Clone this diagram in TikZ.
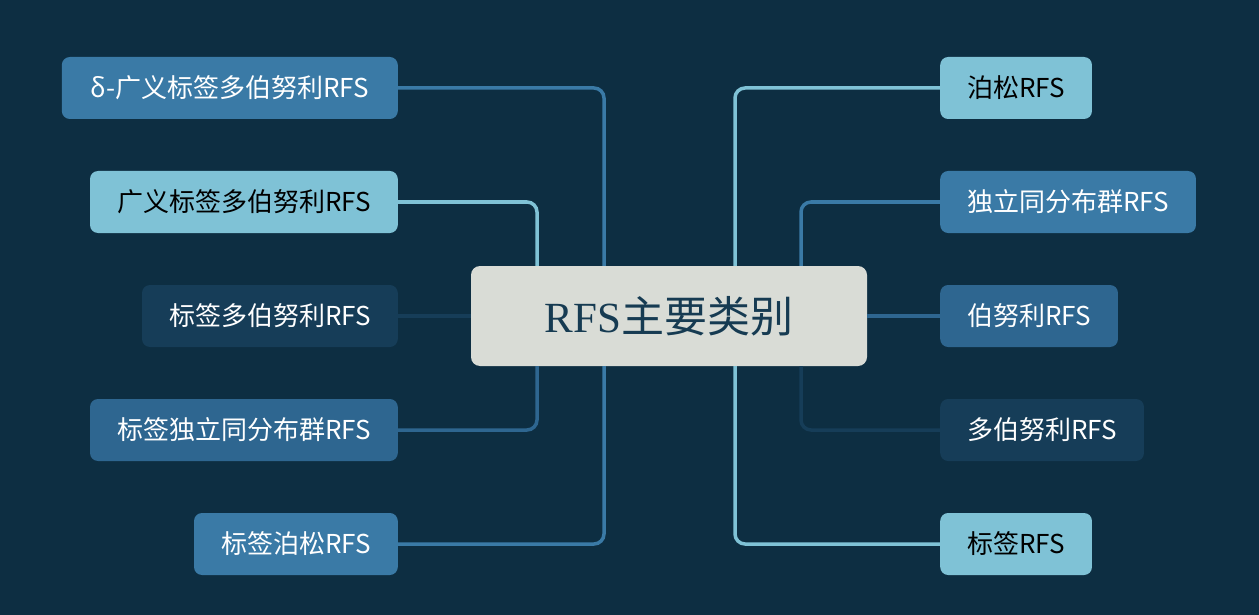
\documentclass[tikz,border=0pt]{standalone}
\usepackage{fontspec}
\newfontfamily\cjk{Noto Sans CJK SC}
\newfontfamily\rmlat{Liberation Serif}
\definecolor{bgcol}{HTML}{0D2E42}
\definecolor{bluea}{HTML}{3A7AA6}
\definecolor{blueb}{HTML}{7FC2D6}
\definecolor{bluec}{HTML}{163D58}
\definecolor{blued}{HTML}{2E6690}
\definecolor{rootfill}{HTML}{D9DCD6}
\definecolor{roottext}{HTML}{163B52}
\tikzset{
  leaf/.style={rounded corners=8, minimum height=62, inner xsep=27, inner ysep=0,
    font=\cjk\fontsize{26}{30}\selectfont, text=white},
  leftleaf/.style={leaf, anchor=east},
  rightleaf/.style={leaf, anchor=west},
  link/.style={line width=3.5, rounded corners=10}
}
\begin{document}
\begin{tikzpicture}[x=1pt, y=-1pt]
      % Background
      \fill[bgcol] (0,0) rectangle (1259,615);

      % Root
      \node[fill=rootfill, rounded corners=9, minimum width=396, minimum height=100,
        text=roottext, font=\fontsize{43}{48}\selectfont]
        (root) at (669,316) {{\rmlat RFS}{\cjk 主要类别}};

      % Left boxes
      \node[leftleaf, fill=bluea, minimum width=336] (dglmb) at (398,88) {δ-广义标签多伯努利RFS};
      \node[leftleaf, fill=blueb, text=black] (glmb) at (398,202) {广义标签多伯努利RFS};
      \node[leftleaf, fill=bluec] (lmb) at (398,316) {标签多伯努利RFS};
      \node[leftleaf, fill=blued] (liid) at (398,430) {标签独立同分布群RFS};
      \node[leftleaf, fill=bluea] (lpois) at (398,544) {标签泊松RFS};

      % Right boxes
      \node[rightleaf, fill=blueb, text=black] (pois) at (940,88) {泊松RFS};
      \node[rightleaf, fill=bluea] (iid) at (940,202) {独立同分布群RFS};
      \node[rightleaf, fill=blued] (bern) at (940,316) {伯努利RFS};
      \node[rightleaf, fill=bluec] (mb) at (940,430) {多伯努利RFS};
      \node[rightleaf, fill=blueb, text=black] (lrfs) at (940,544) {标签RFS};

      % Links
      \draw[link, bluea] (dglmb.east) -| ([xshift=-65]root.north);
      \draw[link, blueb] (glmb.east) -| ([xshift=-132]root.north);
      \draw[link, bluec] (lmb.east) -- (root.west);
      \draw[link, blued] (liid.east) -| ([xshift=-132]root.south);
      \draw[link, bluea] (lpois.east) -| ([xshift=-65]root.south);

      \draw[link, blueb] ([xshift=66]root.north) |- (pois.west);
      \draw[link, bluea] ([xshift=132]root.north) |- (iid.west);
      \draw[link, blued] (root.east) -- (bern.west);
      \draw[link, bluec] ([xshift=132]root.south) |- (mb.west);
      \draw[link, blueb] ([xshift=66]root.south) |- (lrfs.west);
\end{tikzpicture}
\end{document}
